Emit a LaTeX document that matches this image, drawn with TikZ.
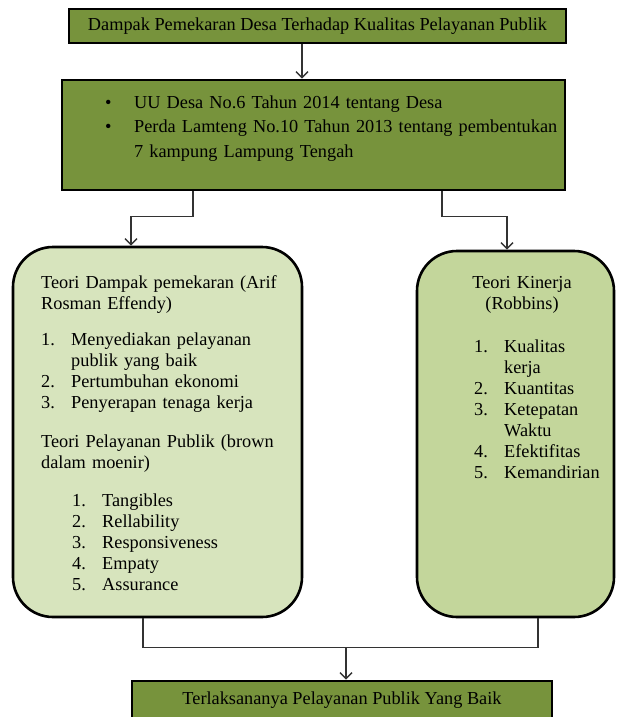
\documentclass[tikz,border=0pt]{standalone}
\usepackage{fontspec}
\setmainfont{Liberation Serif}
\usetikzlibrary{arrows.meta,positioning}

\definecolor{hijautua}{RGB}{119,147,60}
\definecolor{hijaumuda}{RGB}{215,228,189}
\definecolor{hijausedang}{RGB}{195,214,155}

% numbered item with hanging text
\newcommand{\butir}[3][0pt]{\leftskip=#1\relax\hangindent=30pt\hangafter=1\noindent\makebox[30pt][l]{#2}#3\par}

\begin{document}
\begin{tikzpicture}[x=1pt, y=-1pt]

\tikzstyle{kotak} = [rectangle, draw=black, line width=2.6pt, fill=hijautua, inner sep=0pt]
\tikzstyle{bulat} = [rectangle, rounded corners=40pt, draw=black, line width=2.6pt, inner sep=0pt]
\tikzstyle{teks} = [inner sep=0pt, font=\fontsize{18.3}{21}\selectfont]
\tikzstyle{arrow} = [line width=1.4pt, draw=black!80, -{Straight Barb[length=6pt,width=12pt]}]
\tikzstyle{garis} = [line width=1.4pt, draw=black!80]

\useasboundingbox (0,0) rectangle (616,717);
\clip (0,0) rectangle (616,717);

%% ------------------
%% -- TOP PART --
%% ------------------

% judul
\node (judul) [kotak, minimum width=497pt, minimum height=34pt, font=\fontsize{18.3}{21}\selectfont] at (317.5,26) {Dampak Pemekaran Desa Terhadap Kualitas Pelayanan Publik};

% dasar hukum
\node (dasar_hukum) [kotak, minimum width=503pt, minimum height=110pt] at (313.5,135) {};
\node (dasar_teks) [teks, text width=470pt, anchor=base west, font=\fontsize{18.3}{24.7}\selectfont] at (104,108)
  {\raggedright
   \butir{\hspace{1pt}\textbullet}{UU Desa No.6 Tahun 2014 tentang Desa}
   \butir{\hspace{1pt}\textbullet}{Perda Lamteng No.10 Tahun 2013 tentang pembentukan\newline 7 kampung Lampung Tengah}};

\draw [arrow] ([xshift=-15.5pt]judul.south) -- ([xshift=-15.5pt]judul.south |- dasar_hukum.north);

%% ------------------
%% -- THEORY PART --
%% ------------------

% teori dampak & pelayanan
\node (teori_dampak) [bulat, fill=hijaumuda, minimum width=289pt, minimum height=370pt] at (157.5,432) {};
\node (dampak_teks) [teks, text width=255pt, anchor=base west] at (41,288)
  {\raggedright
   Teori Dampak pemekaran (Arif\newline Rosman Effendy)\par\vspace{15pt}
   \butir{1.}{Menyediakan pelayanan\newline publik yang baik}
   \butir{2.}{Pertumbuhan ekonomi}
   \butir{3.}{Penyerapan tenaga kerja}};
\node (layanan_teks) [teks, text width=255pt, anchor=base west] at (41,447)
  {\raggedright
   Teori Pelayanan Publik (brown\newline dalam moenir)\par\vspace{17pt}
   \butir[31pt]{1.}{Tangibles}
   \butir[31pt]{2.}{Rellability}
   \butir[31pt]{3.}{Responsiveness}
   \butir[31pt]{4.}{Empaty}
   \butir[31pt]{5.}{Assurance}};

% teori kinerja
\node (teori_kinerja) [bulat, fill=hijausedang, minimum width=197pt, minimum height=366pt] at (515.5,434) {};
\node (kinerja_judul) [teks, text width=120pt, align=center, anchor=base] at (522,288)
  {Teori Kinerja\\(Robbins)};
\node (kinerja_teks) [teks, text width=135pt, anchor=base west] at (474,352)
  {\raggedright
   \butir{1.}{Kualitas\newline kerja}
   \butir{2.}{Kuantitas}
   \butir{3.}{Ketepatan\newline Waktu}
   \butir{4.}{Efektifitas}
   \butir{5.}{Kemandirian}};

\draw [arrow] ([xshift=-120.5pt]dasar_hukum.south) -- ++(0,25) -| ([xshift=-26.5pt]teori_dampak.north);
\draw [arrow] ([xshift=128.5pt]dasar_hukum.south) -- ++(0,25) -| ([xshift=-8.5pt]teori_kinerja.north);

%% ------------------
%% -- RESULT PART --
%% ------------------

\node (hasil) [kotak, minimum width=420pt, minimum height=38pt, font=\fontsize{18.3}{21}\selectfont] at (342,700) {Terlaksananya Pelayanan Publik Yang Baik};

\draw [garis] ([xshift=-14.5pt]teori_dampak.south) -- ++(0,29) coordinate (gabung_kiri) -| ([xshift=22.5pt]teori_kinerja.south);
\coordinate (gabung) at ([xshift=203pt]gabung_kiri);
\draw [arrow] (gabung) -- (gabung |- hasil.north);

\end{tikzpicture}
\end{document}
